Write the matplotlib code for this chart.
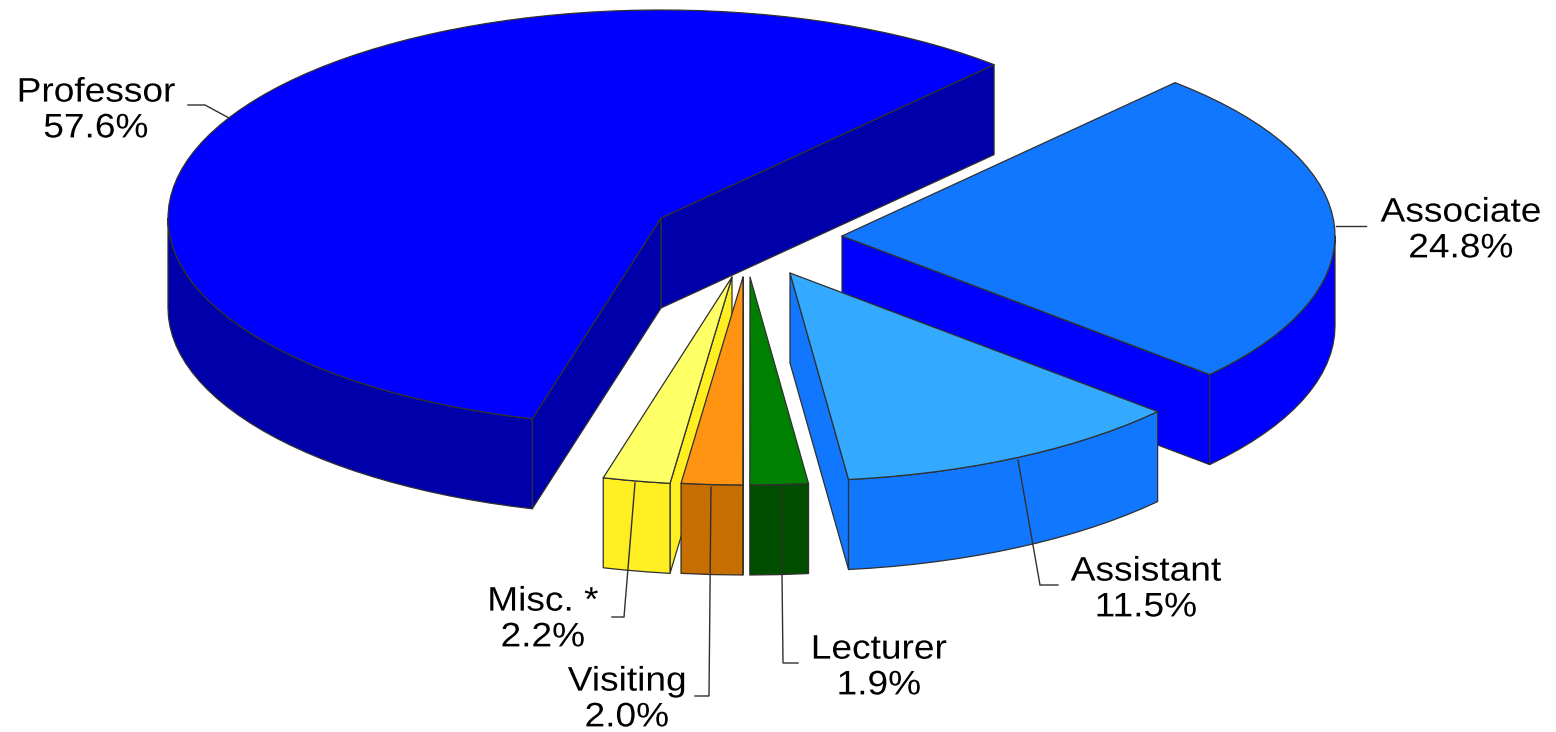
import matplotlib
matplotlib.use("Agg")
import matplotlib.pyplot as plt
from matplotlib.patches import Polygon
from matplotlib.patheffects import AbstractPathEffect
from matplotlib.transforms import Affine2D
import numpy as np

# Data
names = ["Professor", "Misc. *", "Visiting", "Lecturer", "Assistant", "Associate"]
shares = [57.6, 2.2, 2.0, 1.9, 11.5, 24.8]

# Colours, one per slice
top_colors = ["#0000FF", "#FFFF66", "#FF9412", "#008000", "#33AAFF", "#1177FF"]
side_colors = ["#0000AA", "#FFEE22", "#C76E00", "#004D00", "#1177FF", "#0000FF"]

# Layout, in pixels of the picture
centers = [(661, 218), (732, 277), (743, 277), (750, 277), (790, 273), (842, 236)]
label_pos = [(96, 111), (543, 620), (627, 700), (879, 668), (1146, 590), (1461, 231)]
leaders = [
    [(188, 105), (205, 105), (229, 118)],
    [(635, 483), (624, 617), (612, 617)],
    [(711, 487), (709, 696), (695, 696)],
    [(781, 487), (783, 663), (798, 663)],
    [(1018, 460), (1040, 585), (1058, 585)],
    [(1336, 226), (1366, 226)],
]
# Slices are painted back to front, not in pie order
draw_order = [0, 5, 4, 1, 2, 3]
RX = 493
RY = 208
DEPTH = 90
START_ANGLE = 47.5
EDGE = "#303030"

plt.rcParams["font.family"] = ["Liberation Sans", "DejaVu Sans"]
fig = plt.figure(figsize=(15.56, 7.32), dpi=100)
ax = fig.add_axes([0, 0, 1, 1])
ax.set_xlim(0, 1556)
ax.set_ylim(732, 0)
ax.axis("off")


class WideText(AbstractPathEffect):
    # The original labels are letter-spaced, matplotlib has no tracking option.
    def __init__(self, factor):
        super().__init__()
        self.factor = factor

    def draw_path(self, renderer, gc, tpath, affine, rgbFace=None):
        mid = tpath.transformed(affine).get_extents()
        cx = (mid.x0 + mid.x1) / 2
        wide = affine + Affine2D().translate(-cx, 0).scale(self.factor, 1).translate(cx, 0)
        renderer.draw_path(gc, tpath, wide, rgbFace)


def arc(center, t1, t2):
    # Coarse steps on purpose, the original outline is a bit jagged.
    n = max(2, int((t2 - t1) / 2.5) + 1)
    t = np.radians(np.linspace(t1, t2, n))
    return np.column_stack([center[0] + RX * np.cos(t), center[1] - RY * np.sin(t)])


def extrude(points, color):
    lower = points[::-1] + [0, DEPTH]
    ax.add_patch(Polygon(np.vstack([points, lower]), closed=True, facecolor=color,
                         edgecolor=EDGE, linewidth=0.9, joinstyle="round"))


def draw_slice(center, t1, t2, top, side):
    c = np.array(center, dtype=float)
    first = arc(center, t1, t1 + 0.001)[0]
    last = arc(center, t2, t2 + 0.001)[0]
    # Radial walls that face the viewer
    if np.cos(np.radians(t1)) > 0:
        extrude(np.array([c, first]), side)
    if np.cos(np.radians(t2)) < 0:
        extrude(np.array([c, last]), side)
    # Outer wall, only the front half of the ellipse shows
    for lo, hi in [(180, 360), (540, 720)]:
        a = max(t1, lo)
        b = min(t2, hi)
        if a < b:
            extrude(arc(center, a, b), side)
    outline = np.vstack([[c], arc(center, t1, t2)])
    ax.add_patch(Polygon(outline, closed=True, facecolor=top, edgecolor=EDGE,
                         linewidth=0.9, joinstyle="round"))


angle = START_ANGLE
spans = []
for share in shares:
    spans.append((angle, angle + share * 3.6))
    angle += share * 3.6

for i in draw_order:
    draw_slice(centers[i], spans[i][0], spans[i][1], top_colors[i], side_colors[i])

for i in range(len(shares)):
    xs, ys = zip(*leaders[i])
    ax.plot(xs, ys, color=EDGE, linewidth=1.0, solid_joinstyle="miter")
    ax.text(label_pos[i][0], label_pos[i][1], f"{names[i]}\n{shares[i]:.1f}%",
            ha="center", va="center", fontsize=24.5, color="black", linespacing=1.2,
            path_effects=[WideText(1.09)])

fig.savefig("out.png", dpi=100, facecolor="white")
